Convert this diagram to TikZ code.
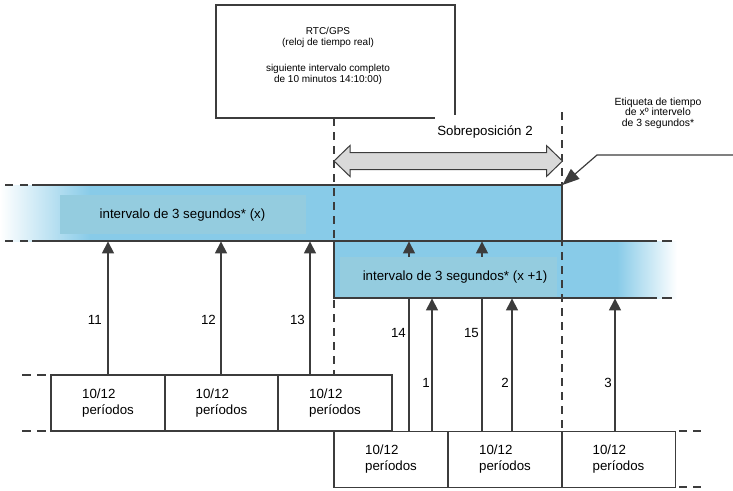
\documentclass[tikz,border=0pt]{standalone}
\usepackage{fontspec}
\setmainfont{Liberation Sans}
\usetikzlibrary{arrows.meta,calc}
\definecolor{bandblue}{RGB}{136,203,232}
\definecolor{innerblue}{RGB}{148,204,223}
\definecolor{linec}{RGB}{60,60,60}
\definecolor{arrowgray}{RGB}{217,217,217}
\begin{document}
\begin{tikzpicture}[x=1pt,y=-1pt,
  ln/.style={draw=linec, line width=1.2pt},
  dsh/.style={draw=linec, line width=1.2pt, dash pattern=on 8pt off 6pt},
  arr/.style={draw=linec, line width=1.2pt, -{Triangle[width=12pt,length=12pt]}},
  perbox/.style={draw=linec, line width=1.2pt, minimum width=114pt, minimum height=56pt, inner sep=0pt, align=left, font=\fontsize{13.3}{16}\selectfont},
  num/.style={anchor=east, inner sep=0pt, font=\fontsize{13.3}{16}\selectfont},
  bandrect/.style={fill=innerblue, inner sep=0pt},
  maintext/.style={inner sep=0pt, font=\fontsize{13.3}{16}\selectfont}
]
\useasboundingbox (0,0) rectangle (733,490);

% RTC box
\node[ln, minimum width=239pt, minimum height=113pt, inner sep=0pt] (rtc) at (335.5,61.5) {};
\node[align=center, font=\fontsize{10}{11.5}\selectfont, inner sep=0pt] (rtctext) at (328,56)
  {RTC/GPS\\(reloj de tiempo real)\\[14pt]siguiente intervalo completo\\de 10 minutos 14:10:00)};
\node[fill=white, minimum width=100pt, minimum height=34pt, maintext] (sob) at (485,132) {Sobreposición 2};

% bands (named frames)
\node[inner sep=0pt, minimum width=562pt, minimum height=56pt, anchor=north west] (bx) at (0,185) {};
\node[inner sep=0pt, minimum width=343pt, minimum height=57pt, anchor=north west] (bx1) at (334,241) {};

\fill[bandblue] (90,185) rectangle (562,241);
\shade[left color=white, right color=bandblue] (0,185) rectangle (90,241);
\fill[bandblue] (334,241) rectangle (617,298);
\shade[left color=bandblue, right color=white] (617,241) rectangle (677,298);

% dashed verticals
\coordinate (dLtop) at (334,118);
\coordinate (dLbot) at (334,375);
\coordinate (dRtop) at (562,112);
\coordinate (dRbot) at (562,431);
\draw[dsh] (dLtop) -- (dLbot);
\draw[dsh] (dRtop) -- (dRbot);

% period boxes
\node[perbox] (t1) at (108,403) {10/12\\períodos};
\node[perbox] (t2) at (221.5,403) {10/12\\períodos};
\node[fill=white, perbox] (t3) at (335,403) {10/12\\períodos};
\node[perbox] (b1) at (391,459.5) {10/12\\períodos};
\node[perbox] (b2) at (505,459.5) {10/12\\períodos};
\node[perbox] (b3) at (618.5,459.5) {10/12\\períodos};

% arrows through the lower band (hidden by inner rect)
\draw[arr] ([xshift=18pt]b1.north) -- ([xshift=18pt]b1.north |- bx.south);
\draw[arr] ([xshift=-23pt]b2.north) -- ([xshift=-23pt]b2.north |- bx.south);

% inner rectangles
\node[bandrect, minimum width=246pt, minimum height=39pt] (ix) at (183,214.5) {};
\node[maintext] (ixt) at (182.5,215) {intervalo de 3 segundos* (x)};
\node[bandrect, minimum width=217pt, minimum height=42pt] (ix1) at (448.5,277.5) {};
\node[maintext] (ix1t) at (455,277) {intervalo de 3 segundos* (x +1)};

% band outlines
\draw[ln] (32,185) -- (562,185) -- (562,241);
\draw[ln] (32,241) -- (657,241);
\draw[dsh, dash pattern=on 8pt off 7pt] (5,185) -- (32,185);
\draw[dsh, dash pattern=on 8pt off 7pt] (5,241) -- (32,241);
\draw[ln] (662,241) -- (672,241);
\draw[ln] (334,241) -- (334,298) -- (657,298);
\draw[ln] (662,298) -- (672,298);

% double arrow
\coordinate (ovL) at (334,161);
\coordinate (ovR) at (562.5,161);
\draw[draw=linec, line width=1pt, fill=arrowgray] (ovL) -- ++(16,-15.5) -- ++(0,7) -- ($(ovR)+(-16,-8.5)$) -- ++(0,-7) -- (ovR) -- ++(-16,15.5) -- ++(0,-7) -- ($(ovL)+(16,8.5)$) -- ++(0,7) -- cycle;

% row dashes
\draw[dsh, dash pattern=on 9pt off 6pt] (22,375) -- (51,375);
\draw[dsh, dash pattern=on 9pt off 6pt] (22,431) -- (51,431);
\draw[dsh] (679,431) -- (701,431);
\draw[dsh] (679,487) -- (701,487);

% arrows
\draw[arr] (t1.north) -- (t1.north |- bx.south);
\draw[arr] ([xshift=-0.5pt]t2.north) -- ([xshift=-0.5pt]t2.north |- bx.south);
\draw[arr] ([xshift=-25pt]t3.north) -- ([xshift=-25pt]t3.north |- bx.south);
\draw[arr] ([xshift=41pt]b1.north) -- ([xshift=41pt]b1.north |- bx1.south);
\draw[arr] ([xshift=7pt]b2.north) -- ([xshift=7pt]b2.north |- bx1.south);
\draw[arr] ([xshift=-3.5pt]b3.north) -- ([xshift=-3.5pt]b3.north |- bx1.south);

% labels
\node[num] (n11) at (102,320) {11};
\node[num] (n12) at (216,320) {12};
\node[num] (n13) at (305,320) {13};
\node[num] (n14) at (406,333) {14};
\node[num] (n15) at (479,333) {15};
\node[num] (n1) at (430,383) {1};
\node[num] (n2) at (509,383) {2};
\node[num] (n3) at (612,383) {3};

% leader
\node[align=center, font=\fontsize{10.4}{10.5}\selectfont, inner sep=0pt] (etq) at (658,113)
  {Etiqueta de tiempo\\de xº intervelo\\de 3 segundos*};
\coordinate (ldR) at (733,155);
\coordinate (ldB) at (597,155);
\draw[ln, -{Triangle[width=13pt,length=17pt]}] (ldR) -- (ldB) -- (bx.north east);
\end{tikzpicture}
\end{document}
